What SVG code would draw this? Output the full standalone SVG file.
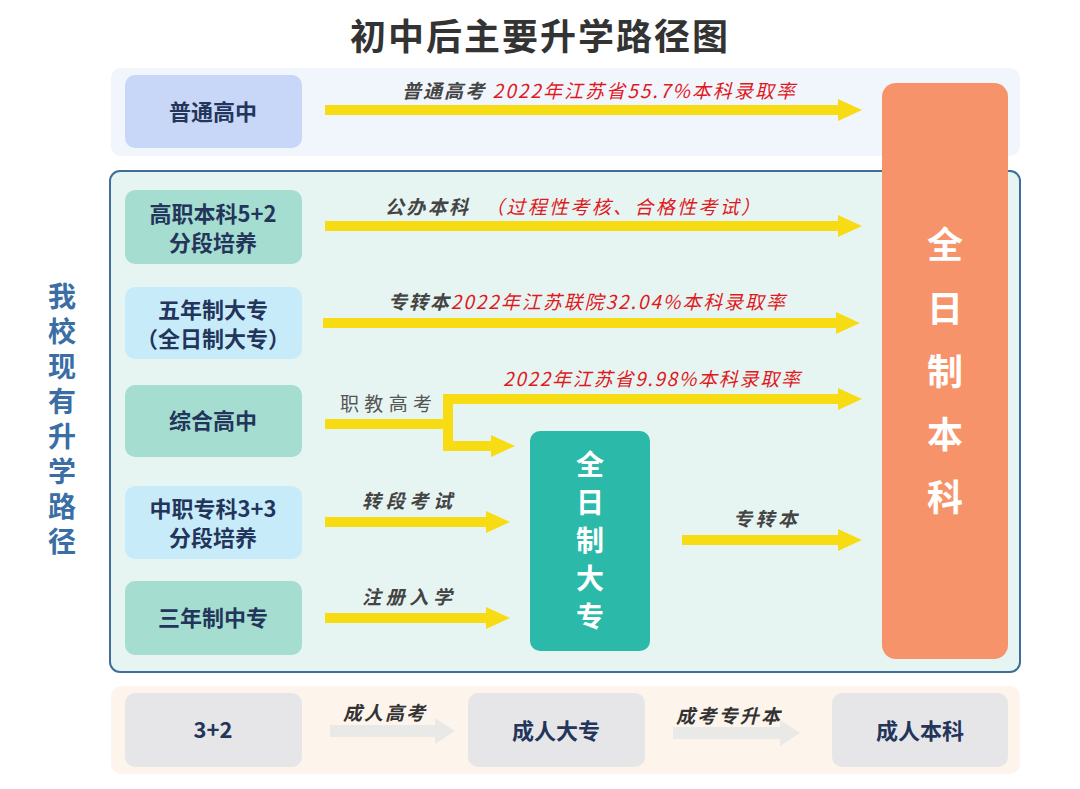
<svg xmlns="http://www.w3.org/2000/svg" width="1080" height="789" viewBox="0 0 1080 789">
<defs>
<style>
text{font-family:"Noto Sans CJK SC","Liberation Sans",sans-serif}
.t{font-size:36px;font-weight:bold;fill:#333;text-anchor:middle;letter-spacing:2px}
.nb{font-size:22px;font-weight:bold;fill:#23355a;text-anchor:middle}
.vw{font-size:36px;font-weight:bold;fill:#fff;text-anchor:middle}
.vw2{font-size:28px;font-weight:bold;fill:#fff;writing-mode:vertical-rl;letter-spacing:10px}
.lb{font-size:19px;font-weight:bold;font-style:italic;fill:#444}
.red{fill:#e0191e;font-weight:normal}
.side{font-size:28px;font-weight:bold;fill:#3a6ea5;writing-mode:vertical-rl;letter-spacing:7px}
.ya{fill:#f7dc13}
.ga{fill:#e9e9e7}
</style>
</defs>
<rect width="1080" height="789" fill="#ffffff"/>
<text class="t" x="540" y="50">初中后主要升学路径图</text>

<g id="bands">
<rect x="111" y="68" width="909" height="88" rx="10" fill="#f1f5fc"/>
<rect x="110" y="171" width="910" height="501" rx="10" fill="#e7f5f2" stroke="#3e6f9b" stroke-width="2"/>
<rect x="111" y="686" width="909" height="88" rx="10" fill="#fdf5ec"/>
</g>

<g id="side-label">
<text class="side" x="62" y="282">我校现有升学路径</text>
</g>

<g id="n-putong"><rect x="125" y="75" width="177" height="73" rx="10" fill="#c8d7f7"/><text class="nb" x="213" y="120">普通高中</text></g>
<g id="n-gaozhi"><rect x="125" y="190" width="177" height="74" rx="10" fill="#a5ddd0"/><text class="nb" x="213" y="222">高职本科5+2</text><text class="nb" x="213" y="251">分段培养</text></g>
<g id="n-wunian"><rect x="125" y="287" width="177" height="72" rx="10" fill="#c8ebfa"/><text class="nb" x="213" y="318">五年制大专</text><text class="nb" x="213" y="347">（全日制大专）</text></g>
<g id="n-zonghe"><rect x="125" y="385" width="177" height="72" rx="10" fill="#a5ddd0"/><text class="nb" x="213" y="429">综合高中</text></g>
<g id="n-zhongzhi"><rect x="125" y="486" width="177" height="73" rx="10" fill="#c8ebfa"/><text class="nb" x="213" y="517">中职专科3+3</text><text class="nb" x="213" y="546">分段培养</text></g>
<g id="n-sannian"><rect x="125" y="581" width="177" height="74" rx="10" fill="#a5ddd0"/><text class="nb" x="213" y="626">三年制中专</text></g>

<g id="n-benke"><rect x="882" y="83" width="126" height="576" rx="14" fill="#f7936a"/>
<text class="vw" x="945" y="258">全</text><text class="vw" x="945" y="322">日</text><text class="vw" x="945" y="385">制</text><text class="vw" x="945" y="448">本</text><text class="vw" x="945" y="511">科</text></g>

<g id="n-dazhuan"><rect x="530" y="431" width="120" height="220" rx="10" fill="#2bb9a9"/>
<text class="vw2" x="590" y="450">全日制大专</text></g>

<g id="n-32"><rect x="125" y="693" width="177" height="74" rx="10" fill="#e6e6e8"/><text class="nb" x="213" y="738">3+2</text></g>
<g id="n-chengrendazhuan"><rect x="468" y="693" width="177" height="74" rx="10" fill="#e6e6e8"/><text class="nb" x="556" y="739">成人大专</text></g>
<g id="n-chengrenbenke"><rect x="832" y="693" width="176" height="74" rx="10" fill="#e6e6e8"/><text class="nb" x="920" y="739">成人本科</text></g>

<g id="connectors">
<polygon class="ya" points="325,105 838,105 838,99 862,110 838,121 838,115 325,115"/>
<polygon class="ya" points="325,221 838,221 838,215 862,226 838,237 838,231 325,231"/>
<polygon class="ya" points="323,318 836,318 836,312 860,323 836,334 836,328 323,328"/>
<polygon class="ya" points="325,419 443,419 443,394 838,394 838,388 862,399 838,410 838,404 453,404 453,441 491,441 491,435 515,446 491,457 491,451 443,451 443,429 325,429"/>
<polygon class="ya" points="325,517 486,517 486,511 510,522 486,533 486,527 325,527"/>
<polygon class="ya" points="325,613 486,613 486,607 510,618 486,629 486,623 325,623"/>
<polygon class="ya" points="682,535 838,535 838,529 862,540 838,551 838,545 682,545"/>
<polygon class="ga" points="330,725 435,725 435,718 455,731 435,744 435,737 330,737"/>
<polygon class="ga" points="673,727 780,727 780,720 800,733 780,746 780,739 673,739"/>
</g>

<g id="labels">
<text class="lb" x="402" y="98" textLength="393" lengthAdjust="spacing">普通高考 <tspan class="red">2022年江苏省55.7%本科录取率</tspan></text>
<text class="lb" x="385" y="214" textLength="375" lengthAdjust="spacing">公办本科 <tspan class="red" dx="8">（过程性考核、合格性考试）</tspan></text>
<text class="lb" x="388" y="309" textLength="397" lengthAdjust="spacing">专转本<tspan class="red">2022年江苏联院32.04%本科录取率</tspan></text>
<text class="lb" x="503" y="386" textLength="297" lengthAdjust="spacing"><tspan class="red">2022年江苏省9.98%本科录取率</tspan></text>
<text class="lb" x="340" y="411" textLength="92" lengthAdjust="spacing" style="font-weight:normal;font-style:normal;fill:#555">职教高考</text>
<text class="lb" x="362" y="508" textLength="90" lengthAdjust="spacing">转段考试</text>
<text class="lb" x="362" y="604" textLength="90" lengthAdjust="spacing">注册入学</text>
<text class="lb" x="733" y="526" textLength="64" lengthAdjust="spacing">专转本</text>
<text class="lb" x="343" y="720" textLength="82" lengthAdjust="spacing" style="fill:#333">成人高考</text>
<text class="lb" x="676" y="723" textLength="104" lengthAdjust="spacing" style="fill:#333">成考专升本</text>
</g>
</svg>
